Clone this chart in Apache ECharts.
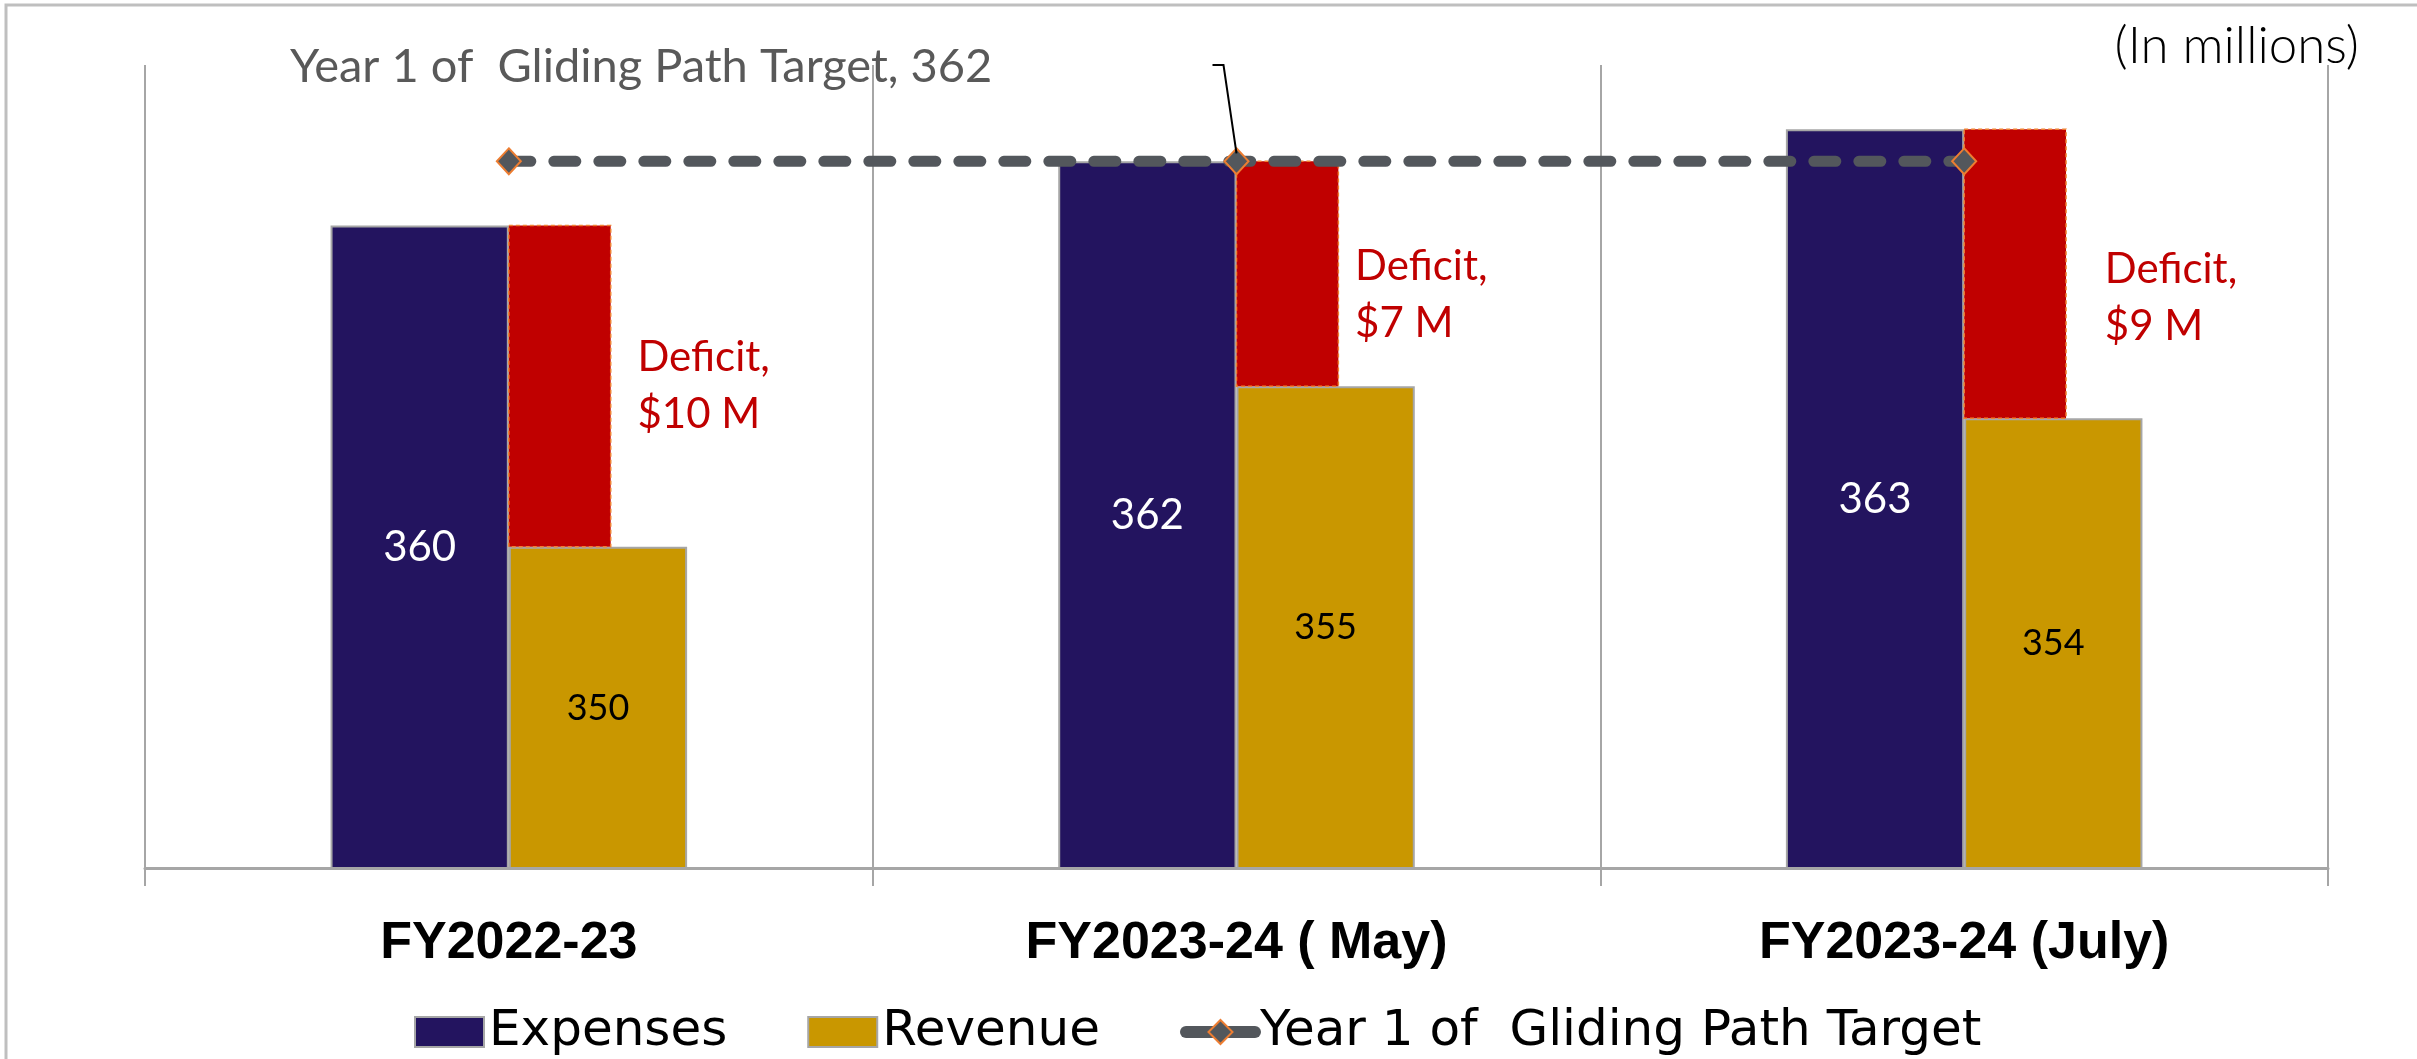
<!DOCTYPE html>
<html><head><meta charset="utf-8">
<script src="https://cdn.jsdelivr.net/npm/echarts@6/dist/echarts.min.js"></script>
<style>html,body{margin:0;padding:0;background:#fff}#c{width:2417px;height:1059px}</style>
</head><body><div id="c"></div>
<script>
const categories = ['FY2022-23', 'FY2023-24 ( May)', 'FY2023-24 (July)'];
const expenses = [360, 362, 363];
const revenue = [350, 355, 354];
const target = [362, 362, 362];
const targetName = 'Year 1 of  Gliding Path Target';
const yMin = 340, yMax = 365;

// style-only nudges for the deficit call-outs (pixels)
const deficitLabelNudge = [[0, 0], [-10, 21], [12, 24]];

const deficitData = categories.map((c, i) => [i, revenue[i], expenses[i]]);
const GRAY = '#A6A6A6';

const chart = echarts.init(document.getElementById('c'), null, {renderer: 'canvas'});
chart.setOption({
  animation: false,
  backgroundColor: '#fff',
  title: {
    text: '(In millions)', right: 53, top: 16,
    textStyle: {fontFamily: 'Lato', fontWeight: 300, fontSize: 51, color: '#000'}
  },
  graphic: [{
    id: 'border', type: 'rect', silent: true, z: -10,
    shape: {x: 6, y: 5, width: 2600, height: 1300},
    style: {fill: 'none', stroke: '#BFBFBF', lineWidth: 3}
  }],
  grid: {left: 145, right: 89, top: 65, bottom: 191},
  legend: {
    data: [
      {name: 'Expenses', icon: 'rect'},
      {name: 'Revenue', icon: 'rect'},
      {name: targetName, lineStyle: {width: 12, type: 'solid', cap: 'round'}}
    ],
    bottom: -3, left: 409,
    itemWidth: 69, itemHeight: 30, itemGap: 80,
    textStyle: {fontFamily: 'DejaVu Sans', fontSize: 50, color: '#000'}
  },
  xAxis: {
    type: 'category', data: categories, boundaryGap: true,
    axisLine: {lineStyle: {color: GRAY, width: 3}},
    axisTick: {show: true, length: 18, interval: 0, lineStyle: {color: GRAY, width: 2}},
    splitLine: {show: true, interval: 0, lineStyle: {color: GRAY, width: 2}},
    axisLabel: {margin: 50, fontFamily: 'Liberation Sans', fontWeight: 'bold', fontSize: 52, color: '#000'}
  },
  yAxis: {type: 'value', min: yMin, max: yMax, show: false, splitLine: {show: false}},
  series: [
    {
      name: 'Expenses', type: 'bar', data: expenses,
      barWidth: '24.5%', barGap: '0%',
      itemStyle: {color: '#23145F', borderColor: GRAY, borderWidth: 2},
      label: {show: true, position: 'inside', color: '#fff', fontFamily: 'Lato', fontSize: 42}
    },
    {
      name: 'Revenue', type: 'bar', data: revenue,
      barWidth: '24.5%', barGap: '0%',
      itemStyle: {color: '#C99700', borderColor: GRAY, borderWidth: 2},
      label: {show: true, position: 'inside', color: '#000', fontFamily: 'Lato', fontSize: 36}
    },
    {
      name: 'Deficit', type: 'custom', data: deficitData, z: 3,
      encode: {x: 0, y: [1, 2]},
      renderItem: function (params, api) {
        const i = api.value(0);
        const lo = api.coord([i, api.value(1)]);
        const hi = api.coord([i, api.value(2)]);
        const band = api.size([1, 0])[0];
        const w = band * 0.14;
        const deficit = Math.round(api.value(2) - api.value(1));
        const nudge = deficitLabelNudge[params.dataIndex] || [0, 0];
        return {
          type: 'rect',
          shape: {x: lo[0], y: hi[1], width: w, height: lo[1] - hi[1]},
          style: {fill: '#C00000', stroke: '#F08030', lineWidth: 1.5, lineDash: [4, 3]},
          textContent: {
            style: {text: 'Deficit,\n$' + deficit + ' M', fill: '#C00000',
              fontFamily: 'Lato', fontSize: 42, lineHeight: 57, align: 'left'}
          },
          textConfig: {position: 'right', distance: 26, offset: nudge}
        };
      }
    },
    {
      name: targetName, type: 'line', z: 5,
      data: target.map((v, i) => i === 1 ? {value: v, label: {show: true}} : v),
      symbol: 'diamond', symbolSize: [24, 26],
      itemStyle: {color: '#53575C', borderColor: '#ED7D31', borderWidth: 2},
      lineStyle: {color: '#53575C', width: 11, type: [22, 23], cap: 'round'},
      label: {
        show: false, formatter: '{a}, {c}',
        fontFamily: 'Lato', fontSize: 47, color: '#595959'
      },
      labelLayout: function (params) {
        return {x: 290, y: 67, align: 'left', verticalAlign: 'middle'};
      }
    }
  ]
});

// leader line from the labelled target point up to the call-out, via the chart's own scales
const pt = chart.convertToPixel({seriesIndex: 3}, [1, target[1]]);
const topY = chart.convertToPixel({yAxisIndex: 0}, yMax);
chart.setOption({
  graphic: [{
    id: 'leader', type: 'polyline', silent: true, z: 100,
    shape: {points: [[pt[0], pt[1] - 8], [pt[0] - 13, topY], [pt[0] - 24, topY]]},
    style: {stroke: '#000', lineWidth: 2, fill: 'none'}
  }]
});
</script></body></html>
